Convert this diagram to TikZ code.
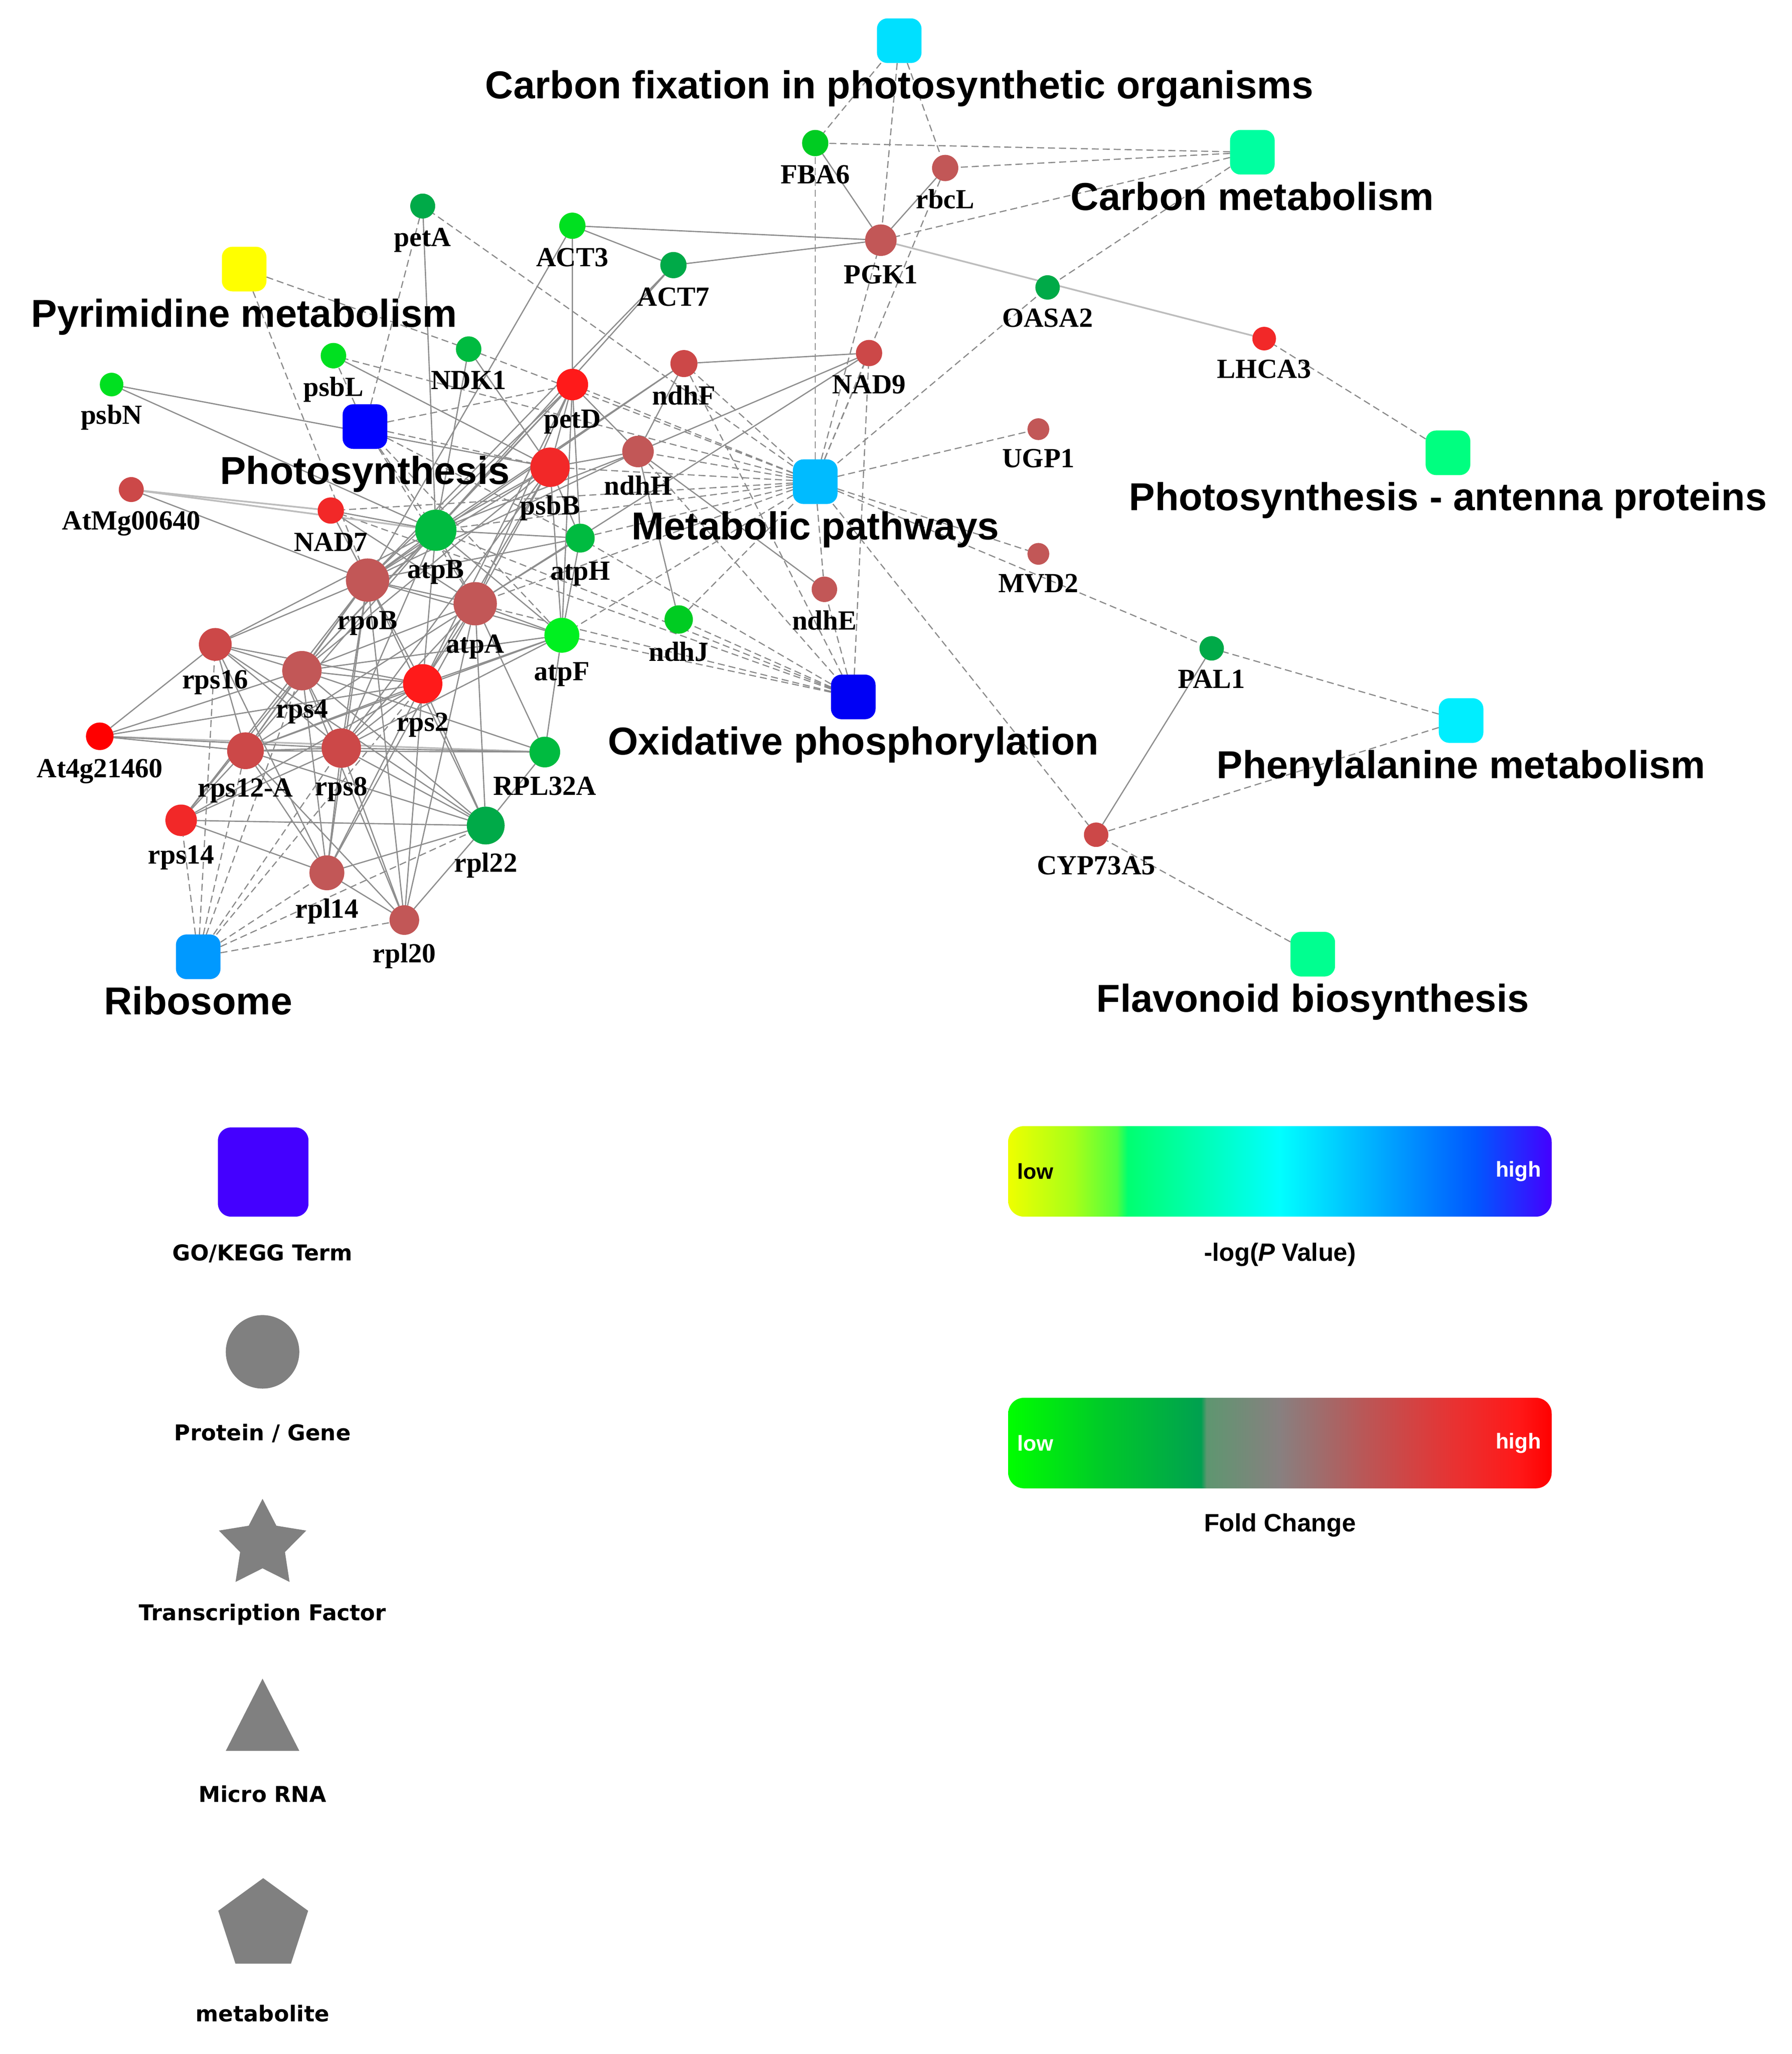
\documentclass[tikz,border=0pt]{standalone}
\usepackage{fontspec}
\setmainfont{Liberation Serif}
\newfontfamily\termfont{Liberation Sans}
\newfontfamily\legfont{DejaVu Sans}
\usetikzlibrary{shapes.geometric,backgrounds}

\definecolor{cBrown}{HTML}{C25757}
\definecolor{cBrownB}{HTML}{CC4848}
\definecolor{cRed}{HTML}{F22828}
\definecolor{cRedB}{HTML}{FF1A1A}
\definecolor{gBright}{HTML}{00E020}
\definecolor{gLime}{HTML}{00F020}
\definecolor{gB}{HTML}{00CC22}
\definecolor{gMed}{HTML}{00BB40}
\definecolor{gDark}{HTML}{00AA48}
\definecolor{tCfix}{HTML}{00E0FF}
\definecolor{tCmet}{HTML}{00FFA0}
\definecolor{tPyr}{HTML}{FFFF00}
\definecolor{tPs}{HTML}{0000FF}
\definecolor{tMet}{HTML}{00BBFF}
\definecolor{tOxp}{HTML}{0000F5}
\definecolor{tAnt}{HTML}{00FF80}
\definecolor{tPhe}{HTML}{00EEFF}
\definecolor{tFla}{HTML}{00FF90}
\definecolor{tRib}{HTML}{0099FF}
\definecolor{edgeSolid}{HTML}{8E8E8E}
\definecolor{edgeLight}{HTML}{BDBDBD}
\definecolor{edgeDash}{HTML}{8A8A8A}
\definecolor{legGray}{HTML}{808080}
\definecolor{legTerm}{HTML}{4400FF}
\definecolor{pvA}{HTML}{EEFF00}
\definecolor{pvB}{HTML}{A8FF18}
\definecolor{pvC}{HTML}{50FF40}
\definecolor{pvD}{HTML}{00FF70}
\definecolor{pvE}{HTML}{00FFFF}
\definecolor{pvF}{HTML}{0058FF}
\definecolor{pvG}{HTML}{4400FF}
\definecolor{fcA}{HTML}{00FF00}
\definecolor{fcB}{HTML}{00C82A}
\definecolor{fcC}{HTML}{00A050}
\definecolor{fcD}{HTML}{5E9670}
\definecolor{fcE}{HTML}{888080}
\definecolor{fcF}{HTML}{B85858}
\definecolor{fcG}{HTML}{E83232}
\definecolor{fcH}{HTML}{FF1818}
\definecolor{fcI}{HTML}{FF0000}

\pgfdeclarehorizontalshading{pvalshade}{100bp}{color(0bp)=(pvA); color(25bp)=(pvA); color(31bp)=(pvB); color(35bp)=(pvC); color(36bp)=(pvD); color(50bp)=(pvE); color(68bp)=(pvF); color(75bp)=(pvG); color(100bp)=(pvG)}
\pgfdeclarehorizontalshading{fcshade}{100bp}{color(0bp)=(fcA); color(25bp)=(fcA); color(34bp)=(fcB); color(42.75bp)=(fcC); color(43.25bp)=(fcD); color(50bp)=(fcE); color(57.5bp)=(fcF); color(66bp)=(fcG); color(72bp)=(fcH); color(75bp)=(fcI); color(100bp)=(fcI)}

\begin{document}
\begin{tikzpicture}[x=0.3mm,y=-0.3mm,
  g/.style={circle,inner sep=0pt,outer sep=0pt,draw=none,minimum size=#1*0.6mm},
  glab/.style={font=\bfseries\fontsize{18}{20}\selectfont,anchor=base,inner sep=0pt},
  term/.style={rectangle,rounded corners=2.4mm,inner sep=0pt,outer sep=0pt,minimum size=34*0.3mm,fill=#1},
  tlab/.style={font=\termfont\bfseries\fontsize{25.3}{28}\selectfont,anchor=base,inner sep=0pt,yshift=-1.8mm},
  label distance=6.3mm,
  ppi/.style={draw=edgeSolid,line width=0.8pt},
  ppil/.style={draw=edgeLight,line width=1.1pt},
  mem/.style={draw=edgeDash,line width=0.75pt,dash pattern=on 1.6mm off 0.9mm},
  leglab/.style={font=\legfont\bfseries\fontsize{14.2}{16}\selectfont,inner sep=0pt},
  barlab/.style={font=\termfont\bfseries\fontsize{16.3}{18}\selectfont,inner sep=0pt},
  lowhigh/.style={font=\termfont\bfseries\fontsize{14}{16}\selectfont,inner sep=0pt},
  cbar/.style={rectangle,rounded corners=3.6mm,inner sep=0pt,minimum width=414*0.3mm,minimum height=69*0.3mm,shading=#1}
]
\useasboundingbox (0,0) rectangle (1365,1565);

% ---------------- term nodes ----------------
\node[term=tCfix,label={[tlab]below:Carbon fixation in photosynthetic organisms}] (cfix) at (685,31) {};
\node[term=tCmet,label={[tlab]below:Carbon metabolism}] (cmet) at (954,116) {};
\node[term=tPyr,label={[tlab]below:Pyrimidine metabolism}] (pyr) at (186,205) {};
\node[term=tPs,label={[tlab]below:Photosynthesis}] (ps) at (278,325) {};
\node[term=tMet,label={[tlab]below:Metabolic pathways}] (met) at (621,367) {};
\node[term=tOxp,label={[tlab]below:Oxidative phosphorylation}] (oxp) at (650,531) {};
\node[term=tAnt,label={[tlab]below:Photosynthesis - antenna proteins}] (ant) at (1103,345) {};
\node[term=tPhe,label={[tlab]below:Phenylalanine metabolism}] (phe) at (1113,549) {};
\node[term=tFla,label={[tlab]below:Flavonoid biosynthesis}] (fla) at (1000,727) {};
\node[term=tRib,label={[tlab]below:Ribosome}] (rib) at (151,729) {};

% ---------------- gene nodes ----------------
\node[g=10,fill=gB,label={[glab]below:FBA6}] (FBA6) at (621,109) {};
\node[g=10,fill=cBrown,label={[glab]below:rbcL}] (rbcL) at (720,128) {};
\node[g=12,fill=cBrown,label={[glab]below:PGK1}] (PGK1) at (671,183) {};
\node[g=10,fill=gBright,label={[glab]below:ACT3}] (ACT3) at (436,172) {};
\node[g=10,fill=gDark,label={[glab]below:ACT7}] (ACT7) at (513,202) {};
\node[g=9.5,fill=gDark,label={[glab]below:petA}] (petA) at (322,157) {};
\node[g=9.3,fill=gDark,label={[glab]below:OASA2}] (OASA2) at (798,219) {};
\node[g=9,fill=cRed,label={[glab]below:LHCA3}] (LHCA3) at (963,258) {};
\node[g=9.7,fill=gBright,label={[glab]below:psbL}] (psbL) at (254,271) {};
\node[g=9.7,fill=gMed,label={[glab]below:NDK1}] (NDK1) at (357,266) {};
\node[g=12,fill=cRedB,label={[glab]below:petD}] (petD) at (436,293) {};
\node[g=10.3,fill=cBrownB,label={[glab]below:ndhF}] (ndhF) at (521,277) {};
\node[g=10,fill=cBrownB,label={[glab]below:NAD9}] (NAD9) at (662,269) {};
\node[g=9,fill=gBright,label={[glab]below:psbN}] (psbN) at (85,293) {};
\node[g=8.3,fill=cBrown,label={[glab]below:UGP1}] (UGP1) at (791,327) {};
\node[g=12,fill=cBrown,label={[glab]below:ndhH}] (ndhH) at (486,344) {};
\node[g=15,fill=cRed,label={[glab]below:psbB}] (psbB) at (419,356) {};
\node[g=9.5,fill=cBrownB,label={[glab]below:AtMg00640}] (AtMg00640) at (100,373) {};
\node[g=10,fill=cRed,label={[glab]below:NAD7}] (NAD7) at (252,389) {};
\node[g=15.7,fill=gMed,label={[glab]below:atpB}] (atpB) at (332,404) {};
\node[g=11,fill=gMed,label={[glab]below:atpH}] (atpH) at (442,410) {};
\node[g=8.3,fill=cBrown,label={[glab]below:MVD2}] (MVD2) at (791,422) {};
\node[g=16.5,fill=cBrown,label={[glab]below:rpoB}] (rpoB) at (280,442) {};
\node[g=16.5,fill=cBrown,label={[glab]below:atpA}] (atpA) at (362,460) {};
\node[g=9.7,fill=cBrown,label={[glab]below:ndhE}] (ndhE) at (628,449) {};
\node[g=10.8,fill=gB,label={[glab]below:ndhJ}] (ndhJ) at (517,472) {};
\node[g=13.3,fill=gLime,label={[glab]below:atpF}] (atpF) at (428,484) {};
\node[g=9.3,fill=gDark,label={[glab]below:PAL1}] (PAL1) at (923,494) {};
\node[g=12.5,fill=cBrownB,label={[glab]below:rps16}] (rps16) at (164,491) {};
\node[g=15,fill=cBrown,label={[glab]below:rps4}] (rps4) at (230,511) {};
\node[g=15,fill=cRedB,label={[glab]below:rps2}] (rps2) at (322,521) {};
\node[g=10.5,fill=red,label={[glab]below:At4g21460}] (At4g21460) at (76,561) {};
\node[g=14,fill=cBrownB,label={[glab]below:rps12-A}] (rps12A) at (187,572) {};
\node[g=15,fill=cBrownB,label={[glab]below:rps8}] (rps8) at (260,570) {};
\node[g=11.7,fill=gMed,label={[glab]below:RPL32A}] (RPL32A) at (415,573) {};
\node[g=12,fill=cRed,label={[glab]below:rps14}] (rps14) at (138,625) {};
\node[g=14.4,fill=gDark,label={[glab]below:rpl22}] (rpl22) at (370,629) {};
\node[g=13.3,fill=cBrown,label={[glab]below:rpl14}] (rpl14) at (249,665) {};
\node[g=11.3,fill=cBrown,label={[glab]below:rpl20}] (rpl20) at (308,701) {};
\node[g=9.3,fill=cBrownB,label={[glab]below:CYP73A5}] (CYP73A5) at (835,636) {};

% ---------------- edges ----------------
\begin{scope}[on background layer]
\foreach \a/\b in {cfix/FBA6, cfix/PGK1, cfix/rbcL,
  cmet/FBA6, cmet/rbcL, cmet/PGK1, cmet/OASA2,
  pyr/NDK1, pyr/rpoB,
  ps/petA, ps/psbL, ps/petD, ps/psbB, ps/atpB, ps/atpA, ps/atpH, ps/atpF,
  met/FBA6, met/PGK1, met/rbcL, met/NAD9, met/OASA2, met/UGP1, met/MVD2, met/PAL1,
  met/CYP73A5, met/ndhE, met/ndhF, met/ndhH, met/ndhJ, met/petD, met/psbB, met/atpH,
  met/atpB, met/atpA, met/atpF, met/NDK1, met/petA, met/NAD7, met/psbL,
  oxp/NAD9, oxp/ndhE, oxp/ndhJ, oxp/atpF, oxp/atpA, oxp/atpB, oxp/atpH, oxp/ndhH,
  oxp/ndhF, oxp/NAD7,
  rib/rps16, rib/rps14, rib/rps12A, rib/rps4, rib/rps8, rib/rps2, rib/rpl14, rib/rpl20, rib/rpl22,
  ant/LHCA3, phe/PAL1, phe/CYP73A5, fla/CYP73A5}
  \draw[mem] (\a) -- (\b);
\foreach \a/\b in {PGK1/LHCA3, AtMg00640/NAD7, AtMg00640/atpB, At4g21460/RPL32A}
  \draw[ppil] (\a) -- (\b);
\foreach \a/\b in {FBA6/PGK1, rbcL/PGK1, ACT3/PGK1, ACT7/PGK1, ACT3/ACT7, ACT3/petD,
  ACT3/rpoB, ACT7/atpB, ACT7/rpoB, petA/atpB,
  psbN/psbB, psbN/atpB, psbL/psbB, NDK1/atpB, NDK1/psbB,
  AtMg00640/rpoB, NAD7/atpB, NAD7/rpoB, NAD7/atpA,
  petD/psbB, petD/atpB, petD/rpoB, petD/atpA, petD/rps2, petD/ndhH, petD/atpH, petD/rps4, petD/atpF,
  psbB/atpB, psbB/rpoB, psbB/atpA, psbB/atpH, psbB/atpF, psbB/rps2, psbB/rps4, psbB/ndhH, psbB/rps8,
  ndhH/ndhF, ndhH/NAD9, ndhH/ndhJ, ndhH/ndhE, ndhH/atpB, ndhH/rpoB,
  ndhF/NAD9, ndhF/atpB, ndhF/rpoB, NAD9/atpA,
  atpH/atpB, atpH/atpA, atpH/atpF, atpH/rpoB,
  atpB/rpoB, atpB/atpA, atpB/atpF, atpB/rps4, atpB/rps2, atpB/rps8, atpB/rps16, atpB/rps12A,
  atpA/rpoB, atpA/atpF, atpA/rps2, atpA/rps4, atpA/rps8, atpA/rps12A, atpA/rpl22, atpA/RPL32A,
  atpA/rpl14, atpA/rpl20,
  atpF/rps2, atpF/rps12A, atpF/rps8, atpF/RPL32A, atpF/rps4, atpF/rpoB,
  rpoB/rps16, rpoB/rps4, rpoB/rps2, rpoB/rps8, rpoB/rps12A, rpoB/rpl14, rpoB/rpl22, rpoB/rpl20, rpoB/rps14,
  rps16/rps4, rps16/rps2, rps16/rps8, rps16/rps12A, rps16/rpl14, rps16/At4g21460, rps16/rpl22,
  rps4/rps2, rps4/rps8, rps4/rps12A, rps4/rps14, rps4/rpl14, rps4/rpl22, rps4/rpl20, rps4/RPL32A,
  rps2/rps8, rps2/rps12A, rps2/rpl22, rps2/rpl14, rps2/rps14, rps2/rpl20,
  At4g21460/rps4, At4g21460/rps2, At4g21460/rps12A, At4g21460/rps8,
  rps12A/rps8, rps12A/RPL32A, rps12A/rpl22, rps12A/rps14, rps12A/rpl14, rps12A/rpl20,
  rps8/RPL32A, rps8/rpl22, rps8/rpl14, rps8/rpl20, rps8/rps14,
  RPL32A/rpl22, rps14/rpl22, rps14/rpl14, rpl22/rpl14, rpl22/rpl20, rpl14/rpl20,
  PAL1/CYP73A5}
  \draw[ppi] (\a) -- (\b);
\end{scope}

% ---------------- legend ----------------
\node[rectangle,rounded corners=3mm,fill=legTerm,minimum width=69*0.3mm,minimum height=68*0.3mm,inner sep=0pt] (lgterm) at (200.5,893) {};
\node[leglab] (lgtermlab) at (200,955) {GO/KEGG Term};
\node[circle,fill=legGray,minimum size=56*0.3mm,inner sep=0pt] (lgprot) at (200,1030) {};
\node[leglab] (lgprotlab) at (200,1092) {Protein / Gene};
\node[star,star points=5,star point ratio=1.95,fill=legGray,minimum size=70*0.3mm,inner sep=0pt] (lgtf) at (200,1177) {};
\node[leglab] (lgtflab) at (200,1230) {Transcription Factor};
\fill[legGray] (172,1334) -- (228,1334) -- (200,1279) -- cycle;
\node[leglab] (lgmirlab) at (200,1367) {Micro RNA};
\node[regular polygon,regular polygon sides=5,fill=legGray,minimum size=72*0.3mm,inner sep=0pt] (lgmet) at (200.5,1467) {};
\node[leglab] (lgmetlab) at (200,1534) {metabolite};

% ---------------- colour bars ----------------
\node[cbar=pvalshade] (pbar) at (975,892.5) {};
\node[lowhigh,anchor=west,text=black] (pbarlow) at ([xshift=7*0.3mm]pbar.west) {low};
\node[lowhigh,anchor=east,text=white] (pbarhigh) at ([xshift=-8*0.3mm]pbar.east) {high};
\node[barlab] (pbarlab) at (975,956) {-log(\textit{P} Value)};
\node[cbar=fcshade] (fbar) at (975,1099.5) {};
\node[lowhigh,anchor=west,text=white] (fbarlow) at ([xshift=7*0.3mm]fbar.west) {low};
\node[lowhigh,anchor=east,text=white] (fbarhigh) at ([xshift=-8*0.3mm]fbar.east) {high};
\node[barlab] (fbarlab) at (975,1162) {Fold Change};
\end{tikzpicture}
\end{document}
